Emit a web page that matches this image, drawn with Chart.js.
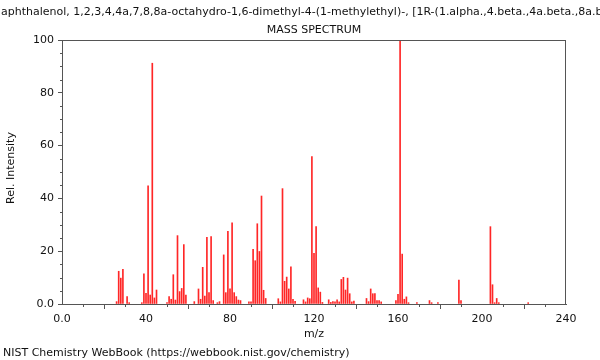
<!DOCTYPE html>
<html>
<head>
<meta charset="utf-8">
<script src="https://cdn.jsdelivr.net/npm/chart.js@4.4.1/dist/chart.umd.min.js"></script>
<style>
  html, body { margin: 0; padding: 0; background: #fff; }
  canvas { display: block; }
</style>
</head>
<body>
<canvas id="spectrum" width="600" height="360"></canvas>
<script>
// Mass spectrum data (m/z, relative intensity)
const mzValues = [
    26, 27, 28, 29, 31, 32, 38, 39, 40, 41, 42, 43, 44, 45,
    50, 51, 52, 53, 54, 55, 56, 57, 58, 59, 63, 65, 66, 67, 68, 69,
    70, 71, 72, 74, 75, 77, 78, 79, 80, 81, 82, 83, 84, 85,
    89, 90, 91, 92, 93, 94, 95, 96, 97, 103, 104, 105, 106, 107,
    108, 109, 110, 111, 115, 116, 117, 118, 119, 120, 121, 122, 123, 124,
    127, 128, 129, 130, 131, 132, 133, 134, 135, 136, 137, 138, 139,
    145, 146, 147, 148, 149, 150, 151, 152, 159, 160, 161, 162, 163,
    164, 165, 169, 175, 176, 179, 189, 190, 204, 205, 206, 207, 208, 222
];
const intensities = [
    0.9, 12.4, 9.8, 13.1, 2.8, 0.5, 0.5, 11.4, 4.0, 44.8, 3.4, 91.2, 2.3, 5.3,
    0.5, 2.8, 1.8, 11.1, 1.5, 25.9, 4.7, 5.9, 22.5, 3.4, 0.9, 5.7, 1.8, 13.9, 3.0, 25.3,
    4.3, 25.5, 1.3, 0.5, 0.9, 18.6, 4.3, 27.5, 5.7, 30.7, 4.3, 2.8, 1.5, 1.3,
    0.8, 0.8, 20.7, 16.4, 30.4, 19.9, 40.9, 5.2, 2.1, 2.0, 0.8, 43.7, 8.6, 10.2,
    5.7, 14.1, 1.8, 1.0, 1.6, 0.8, 2.3, 2.0, 55.8, 19.2, 29.3, 6.1, 4.5, 0.6,
    1.6, 0.6, 0.9, 0.8, 1.6, 0.8, 9.3, 10.1, 5.3, 9.8, 3.9, 0.8, 1.1,
    2.1, 0.9, 5.7, 3.9, 3.9, 1.3, 1.3, 0.8, 1.3, 3.7, 100, 18.9, 1.8,
    2.7, 0.5, 0.5, 1.3, 0.5, 0.5, 9.1, 1.3, 29.3, 7.3, 0.5, 2.1, 0.5, 0.5
];
const xLabelEvery = 40;
const yLabelEvery = 20;

const compoundName = '1-Naphthalenol, 1,2,3,4,4a,7,8,8a-octahydro-1,6-dimethyl-4-(1-methylethyl)-, [1R-(1.alpha.,4.beta.,4a.beta.,8a.beta.)]-';
const FONT = "11px 'DejaVu Sans', sans-serif";
const AXIS = '#555';

const points = mzValues.map((m, i) => ({ x: m, y: intensities[i] }));

// titles, axis names, footer, frame and minor ticks
const decorations = {
    id: 'decorations',
    afterDraw(chart) {
        const ctx = chart.ctx;
        const area = chart.chartArea;
        const xs = chart.scales.x, ys = chart.scales.y;
        ctx.save();
        ctx.font = FONT;
        ctx.fillStyle = '#111';
        ctx.textBaseline = 'middle';

        // long compound name, clipped at both sides like the reference
        ctx.textAlign = 'left';
        ctx.fillText(compoundName, -ctx.measureText('1-N').width + 1, 12);

        ctx.textAlign = 'center';
        ctx.fillText('MASS SPECTRUM', (area.left + area.right) / 2, 30);
        ctx.fillText('m/z', (area.left + area.right) / 2, 334);

        ctx.textAlign = 'left';
        ctx.fillText('NIST Chemistry WebBook (https://webbook.nist.gov/chemistry)', 3, 353);

        ctx.save();
        ctx.translate(11, 168);
        ctx.rotate(-Math.PI / 2);
        ctx.textAlign = 'center';
        ctx.fillText('Rel. Intensity', 0, 0);
        ctx.restore();

        // frame
        ctx.strokeStyle = AXIS;
        ctx.lineWidth = 1;
        ctx.strokeRect(area.left + 0.5, area.top + 0.5, area.right - area.left - 1, area.bottom - area.top);

        // minor ticks
        ctx.beginPath();
        for (let v = 0; v <= 240; v += 10) {
            if (v % xLabelEvery === 0) continue;
            const px = Math.round(xs.getPixelForValue(v)) + 0.5;
            ctx.moveTo(px, area.bottom);
            ctx.lineTo(px, area.bottom + 3);
        }
        for (let v = 0; v <= 100; v += 5) {
            if (v % yLabelEvery === 0) continue;
            const py = Math.round(ys.getPixelForValue(v)) + 0.5;
            ctx.moveTo(area.left, py);
            ctx.lineTo(area.left - 2, py);
        }
        ctx.stroke();
        ctx.restore();
    }
};

new Chart(document.getElementById('spectrum'), {
    type: 'bar',
    data: {
        datasets: [{
            data: points,
            backgroundColor: 'rgba(255, 0, 0, 0.85)',
            barThickness: 1,
            borderWidth: 0
        }]
    },
    options: {
        responsive: false,
        animation: false,
        layout: { padding: { top: 40, right: 34, left: 0, bottom: 0 } },
        plugins: {
            legend: { display: false },
            tooltip: { enabled: false }
        },
        scales: {
            x: {
                type: 'linear',
                min: 0,
                max: 240,
                offset: false,
                afterFit: (scale) => { scale.height = 56; },
                grid: {
                    drawOnChartArea: false,
                    tickLength: 5,
                    tickColor: AXIS
                },
                border: { color: AXIS },
                ticks: {
                    stepSize: xLabelEvery,
                    padding: 4,
                    maxRotation: 0,
                    color: '#111',
                    font: { family: "'DejaVu Sans', sans-serif", size: 11 },
                    callback: (v) => v === 0 ? '0.0' : String(v)
                }
            },
            y: {
                min: 0,
                max: 100,
                afterFit: (scale) => { scale.width = 62; },
                grid: {
                    drawOnChartArea: false,
                    tickLength: 4,
                    tickColor: AXIS
                },
                border: { color: AXIS },
                ticks: {
                    stepSize: yLabelEvery,
                    padding: 4,
                    color: '#111',
                    font: { family: "'DejaVu Sans', sans-serif", size: 11 },
                    callback: (v) => v === 0 ? '0.0' : String(v)
                }
            }
        }
    },
    plugins: [decorations]
});
</script>
</body>
</html>
